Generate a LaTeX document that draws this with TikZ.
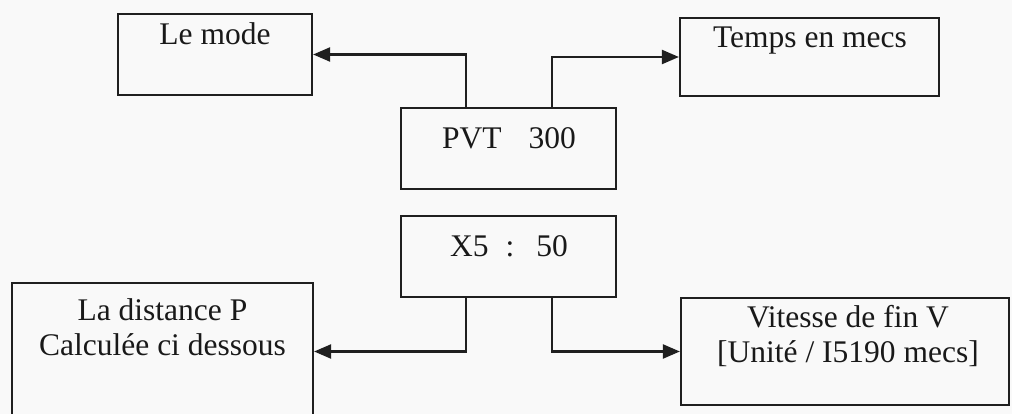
\documentclass[tikz,border=0pt]{standalone}
\usepackage{fontspec}
\setmainfont{Liberation Serif}
\usetikzlibrary{arrows.meta}
\begin{document}
\begin{tikzpicture}[x=1pt,y=-1pt,
  box/.style={draw=black!88, line width=2.2pt, rectangle, inner sep=0pt},
  txt/.style={font=\fontsize{31.5pt}{35pt}\selectfont, inner sep=0pt, anchor=base, align=center, text=black!90},
  conn/.style={draw=black!88, line width=2.2pt, -{Triangle[length=17pt,width=14pt]}}]
\fill[gray!5] (0,0) rectangle (1012,414);
\useasboundingbox (0,0) rectangle (1012,414);
\clip (0,0) rectangle (1012,414);
% boxes
\node[box, minimum width=194pt, minimum height=81pt] (mode) at (215,54.5) {};
\node[box, minimum width=259pt, minimum height=78pt] (temps) at (809.5,57) {};
\node[box, minimum width=215pt, minimum height=81pt] (pvt) at (508.5,148.5) {};
\node[box, minimum width=215pt, minimum height=81pt] (x5) at (508.5,256.5) {};
\node[box, minimum width=301pt, minimum height=137pt] (dist) at (162.5,351.5) {};
\node[box, minimum width=328pt, minimum height=107pt] (vit) at (845,351.5) {};
% texts
\node[txt] (modeT) at (215,45) {Le mode};
\node[txt] (tempsT) at (810,48) {Temps en mecs};
\node[txt] (pvtT) at (509,149) {PVT\hskip 27pt 300};
\node[txt] (x5T) at (509,257) {X5\hskip 17pt:\hskip 22pt 50};
\node[txt] (distT) at (162.5,355) {La distance P\\Calculée ci dessous};
\node[txt] (vitT) at (848,362) {Vitesse de fin V\\{[}Unité / I5190 mecs{]}};
% connectors
\draw[conn] ([xshift=-42.5pt]pvt.north) |- (mode.east);
\draw[conn] ([xshift=43.5pt]pvt.north) |- (temps.west);
\draw[conn] ([xshift=-42.5pt]x5.south) |- (dist.east);
\draw[conn] ([xshift=43.5pt]x5.south) |- (vit.west);
\end{tikzpicture}
\end{document}
